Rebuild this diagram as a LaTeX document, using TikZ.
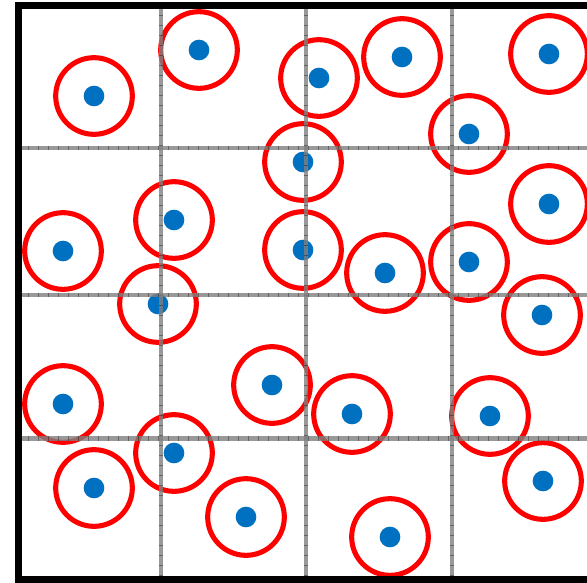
\documentclass[tikz,border=0pt]{standalone}
\usepackage{tikz}
\definecolor{dotblue}{RGB}{0,112,192}
\tikzset{
  ring/.style={draw=red, line width=3.8pt},
  dot/.style={fill=dotblue},
  gridline/.style={draw=gray, opacity=0.8, line width=3.5pt},
  gridtick/.style={draw=black, opacity=0.35, line width=3.5pt, dash pattern=on 0.8pt off 6.7pt},
  frame/.style={draw=black, line width=5.3pt}
}
\begin{document}
\begin{tikzpicture}[x=0.75pt,y=-0.75pt]
\useasboundingbox (0,0) rectangle (587,583);
\clip (0,0) rectangle (587,583);
\fill[white] (0,0) rectangle (587,583);
\foreach \i/\x/\y in {1/94/96,2/199/50,3/319/78,4/402/57,5/549/54,6/469/134,7/303/162,8/549/204,9/174/220,10/63/251,11/303/250,12/385/273,13/469/262,14/158/304,15/542/315,16/272/385,17/63/404,18/352/414,19/490/416,20/174/453,21/94/488,22/543/481,23/246/517,24/390/537}{
  \coordinate (c\i) at (\x,\y);
  \node[circle, ring, minimum size=57.5pt, inner sep=0pt] (r\i) at (c\i) {};
  \node[circle, dot, minimum size=15.5pt, inner sep=0pt] (d\i) at (c\i) {};
}
\foreach \x in {161,306,452}{
  \draw[gridline] (\x,5) -- (\x,580);
  \draw[gridtick] (\x,5) -- (\x,580);
}
\foreach \y in {148,295,438.5}{
  \draw[gridline] (18,\y) -- (600,\y);
  \draw[gridtick] (18,\y) -- (600,\y);
}
\draw[frame] (600,5.5) -- (18.5,5.5) -- (18.5,580) -- (600,580);
\end{tikzpicture}
\end{document}
